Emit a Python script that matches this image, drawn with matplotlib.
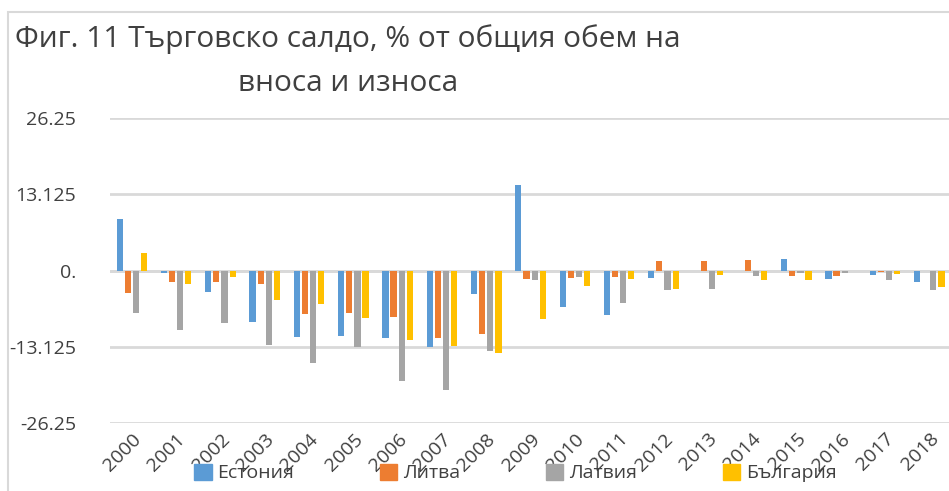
import numpy as np
import matplotlib.pyplot as plt
from matplotlib.patches import Rectangle, Patch

plt.rcParams['font.family'] = ['Open Sans', 'DejaVu Sans']

years = [str(y) for y in range(2000, 2019)]
estonia = [8.9, -0.5, -3.7, -8.9, -11.5, -11.3, -11.6, -13.2, -4.0, 14.7,
           -6.3, -7.6, -1.3, 0.0, -0.1, 2.0, -1.5, -0.7, -1.9]
lithuania = [-3.9, -2.0, -2.0, -2.3, -7.5, -7.3, -8.0, -11.6, -11.0, -1.4,
             -1.3, -1.1, 1.6, 1.7, 1.8, -1.0, -1.0, -0.2, 0.0]
latvia = [-7.3, -10.3, -9.1, -12.8, -15.9, -13.2, -19.1, -20.6, -13.9, -1.7,
          -1.2, -5.6, -3.4, -3.2, -0.9, -0.4, -0.4, -1.7, -3.3]
bulgaria = [3.0, -2.4, -1.2, -5.1, -5.8, -8.2, -11.9, -13.0, -14.2, -8.3,
            -2.6, -1.5, -3.2, -0.7, -1.7, -1.7, 0.0, -0.6, -2.9]
names = ['Естония', 'Литва', 'Латвия', 'България']
colors = ['#5b9bd5', '#ed7d31', '#a5a5a5', '#ffc000']
yticks = [26.25, 13.125, 0, -13.125, -26.25]
ytick_labels = ['26.25', '13.125', '0.', '-13.125', '-26.25']

fig = plt.figure(figsize=(9.49, 4.91), dpi=100)
ax = fig.add_axes([109.7 / 949, 1 - 423 / 491, (951.4 - 109.7) / 949, (423 - 118) / 491])

x = np.arange(len(years))
pitch = 0.183
for i, (vals, c) in enumerate(zip([estonia, lithuania, latvia, bulgaria], colors)):
    ax.bar(x + (i - 1.5) * pitch, vals, width=0.14, color=c, zorder=3)

ax.set_xlim(-0.5, len(years) - 0.5)
ax.set_ylim(-26.25, 26.25)
ax.set_yticks(yticks)
ax.set_yticklabels(ytick_labels, fontsize=14, color='#404040')
ax.yaxis.grid(True, color='#d9d9d9', linewidth=2, zorder=0)
ax.axhline(0, color='#d9d9d9', linewidth=2, zorder=1)
for s in ax.spines.values():
    s.set_visible(False)
ax.tick_params(axis='both', length=0)
ax.tick_params(axis='y', pad=24)
ax.set_xticks(x)
ax.set_xticklabels(years, fontsize=14, color='#404040', rotation=45,
                   ha='right', va='top', rotation_mode='anchor')
ax.tick_params(axis='x', pad=5)

fig.text(348 / 949, 1 - 61 / 491, 'Фиг. 11 Търговско салдо, % от общия обем на\nвноса и износа',
         ha='center', va='center', fontsize=21.5, color='#404040', linespacing=1.7)

handles = [Patch(color=c) for c in colors]
fig.legend(handles, names, loc='center', bbox_to_anchor=(0.543, 1 - 473 / 491), ncol=4,
           frameon=False, fontsize=14, handlelength=0.9, handleheight=0.9,
           handletextpad=0.3, columnspacing=4.4, labelcolor='#404040')

fig.patches.append(Rectangle((8 / 949, -0.1), 1.2, 1 - 12 / 491 + 0.1, transform=fig.transFigure,
                             fill=False, edgecolor='#d9d9d9', linewidth=1.5))

fig.savefig('out.png', dpi=100)
